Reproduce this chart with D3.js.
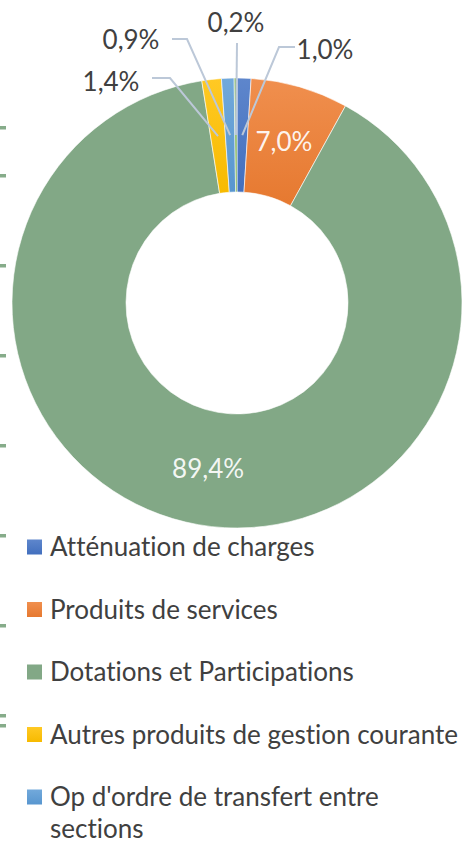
<!DOCTYPE html>
<html>
<head>
<meta charset="utf-8">
<script src="https://cdn.jsdelivr.net/npm/d3@7"></script>
<style>
  html, body { margin: 0; padding: 0; background: #fff; }
  svg { display: block; }
  text { font-family: Lato, "Open Sans", sans-serif; font-variant-ligatures: none; font-feature-settings: "liga" 0; }
</style>
</head>
<body>
<svg id="chart" width="463" height="843"></svg>
<script>
// Recettes de fonctionnement — répartition par chapitre (%)
const categories = [
  "Atténuation de charges",
  "Produits de services",
  "Dotations et Participations",
  "Autres produits de gestion courante",
  "Op d'ordre de transfert entre sections",
  "Produits exceptionnels"
];
const shares = [1.0, 7.0, 89.4, 1.4, 0.9, 0.2];
const valueLabels = ["1,0%", "7,0%", "89,4%", "1,4%", "0,9%", "0,2%"];
const colors = ["#4472C4", "#ED7D31", "#82A886", "#FFC000", "#5B9BD5", "#70AD47"];

const W = 463, H = 843;
const cx = 237, cy = 303;
const outerR = 225, innerR = 111;
const fontSize = 26;

const svg = d3.select("#chart");

// small tick fragments of the neighbouring chart along the left edge
const edgeTicks = d3.range(7).map(i => 176 + 90 * i).concat([128, 726]);
svg.append("g").selectAll("rect").data(edgeTicks).join("rect")
  .attr("x", 0).attr("y", d => d - 2).attr("width", 6).attr("height", 3.5)
  .attr("fill", "#86AC8A");

const data = categories.map((c, i) => ({ name: c, value: shares[i], label: valueLabels[i], color: colors[i], i }));

const pie = d3.pie().value(d => d.value).sort(null).startAngle(0).endAngle(2 * Math.PI);
const arcs = pie(data);
const arc = d3.arc().innerRadius(innerR).outerRadius(outerR);
const midArc = d3.arc().innerRadius((innerR + outerR) / 2).outerRadius((innerR + outerR) / 2);

// soft top-to-bottom shading on each slice
const defs = svg.append("defs");
data.forEach(d => {
  const g = defs.append("linearGradient").attr("id", "grad" + d.i)
    .attr("x1", 0).attr("y1", 0).attr("x2", 0).attr("y2", 1);
  const light = d.i === 2 ? d.color : d3.interpolateRgb(d.color, "#ffffff")(0.14);
  const dark = d.i === 2 ? d.color : d3.interpolateRgb(d.color, "#000000")(0.03);
  g.append("stop").attr("offset", "0%").attr("stop-color", light);
  g.append("stop").attr("offset", "100%").attr("stop-color", dark);
});

const gPie = svg.append("g").attr("transform", `translate(${cx},${cy})`);
gPie.selectAll("path").data(arcs).join("path")
  .attr("d", arc)
  .attr("fill", d => `url(#grad${d.data.i})`)
  .attr("stroke", "#ffffff").attr("stroke-width", 0.6);

// labels inside the two large slices
const inside = [1, 2];
gPie.selectAll("text.inside").data(arcs.filter(a => inside.includes(a.data.i))).join("text")
  .attr("class", "inside")
  .attr("x", d => midArc.centroid(d)[0])
  .attr("y", d => midArc.centroid(d)[1])
  .attr("dy", "0.35em")
  .attr("text-anchor", "middle")
  .attr("fill", "#ffffff").attr("fill-opacity", 0.92)
  .attr("font-size", fontSize)
  .text(d => d.data.label);

// outside labels with leader lines (label centre, line start, elbow)
const outsideLayout = {
  0: { tx: 325, ty: 50, start: [295, 47], elbow: [279, 47] },
  3: { tx: 111, ty: 82, start: [152, 78], elbow: [170, 78] },
  4: { tx: 131, ty: 40, start: [172, 39], elbow: [187, 39] },
  5: { tx: 236, ty: 23, start: [237, 43], elbow: [237, 43] }
};

const gOut = svg.append("g");
arcs.filter(a => outsideLayout[a.data.i]).forEach(a => {
  const L = outsideLayout[a.data.i];
  const c = midArc.centroid(a);
  const end = [cx + c[0], cy + c[1]];
  gOut.append("polyline")
    .attr("points", [L.start, L.elbow, end].map(p => p.join(",")).join(" "))
    .attr("fill", "none").attr("stroke", "#BCC8D8").attr("stroke-width", 2);
  gOut.append("text")
    .attr("x", L.tx).attr("y", L.ty).attr("dy", "0.35em")
    .attr("text-anchor", "middle")
    .attr("fill", "#404040").attr("font-size", fontSize)
    .text(a.data.label);
});

// legend (the first five entries fit in the frame)
const legend = svg.append("g");
const rowY = i => 547 + 62.5 * i;
const wrapWidth = 415;
data.slice(0, 5).forEach((d, i) => {
  const y = rowY(i);
  legend.append("rect").attr("x", 27).attr("y", y - 7.5).attr("width", 15).attr("height", 15)
    .attr("fill", `url(#grad${d.i})`);
  const t = legend.append("text").attr("x", 50).attr("y", y).attr("dy", "0.35em")
    .attr("fill", "#404040").attr("font-size", fontSize);
  // wrap long entries onto a second line
  const words = d.name.split(" ");
  let line = [];
  let tspan = t.append("tspan").attr("x", 50);
  words.forEach(w => {
    line.push(w);
    tspan.text(line.join(" "));
    if (tspan.node().getComputedTextLength() > wrapWidth && line.length > 1) {
      line.pop();
      tspan.text(line.join(" "));
      line = [w];
      tspan = t.append("tspan").attr("x", 50).attr("dy", 32).text(w);
    }
  });
});
</script>
</body>
</html>
